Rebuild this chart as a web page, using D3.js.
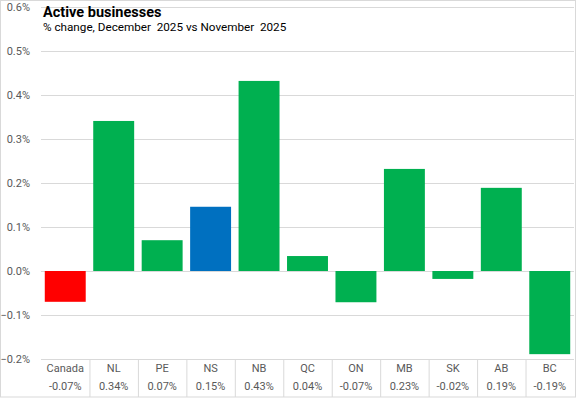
<!DOCTYPE html>
<html>
<head>
<meta charset="utf-8">
<script src="https://cdn.jsdelivr.net/npm/d3@7"></script>
<style>
  body { margin: 0; background: #fff; }
  svg text { font-family: Roboto, "Liberation Sans", sans-serif; }
</style>
</head>
<body>
<svg id="chart" width="577" height="399"></svg>
<script>
// data
const regions = ["Canada", "NL", "PE", "NS", "NB", "QC", "ON", "MB", "SK", "AB", "BC"];
const changes = [-0.070, 0.341, 0.070, 0.146, 0.432, 0.034, -0.071, 0.232, -0.018, 0.189, -0.189];
const changeLabels = ["-0.07%", "0.34%", "0.07%", "0.15%", "0.43%", "0.04%", "-0.07%", "0.23%", "-0.02%", "0.19%", "-0.19%"];
const yTicks = [-0.2, -0.1, 0, 0.1, 0.2, 0.3, 0.4, 0.5, 0.6];

const W = 577, H = 399;
const m = {left: 41, right: 3, top: 7, bottom: 40};

const svg = d3.select("#chart");

const x = d3.scaleBand().domain(regions).range([m.left, W - m.right]).paddingInner(0.155).paddingOuter(0.078);
const xCell = d3.scaleBand().domain(regions).range([m.left, W - m.right]);
const y = d3.scaleLinear().domain([-0.2, 0.6]).range([H - m.bottom, m.top]);

const getFill = d => d.name === "Canada" ? "#FF0000" : (d.name === "NS" ? "#0070C0" : "#00B050");
const rows = regions.map((name, i) => ({name, v: changes[i], label: changeLabels[i]}));

// outer border
svg.append("rect").attr("x", 0.5).attr("y", 0.5).attr("width", W - 2).attr("height", H - 2.5)
  .attr("fill", "none").attr("stroke", "#D9D9D9");

// gridlines + y labels
const yAxis = d3.axisLeft(y).tickValues(yTicks).tickSize(-(W - m.right - m.left));
svg.append("g").attr("transform", `translate(${m.left},0)`).call(yAxis)
  .call(g => g.select(".domain").remove())
  .call(g => g.selectAll("line").attr("stroke", "#D9D9D9"))
  .call(g => g.selectAll("text").attr("x", -11).attr("fill", "#595959").style("font-size", "11px")
    .text(d => d3.format(".1f")(d) + "%"));

// bars
svg.append("g").selectAll("rect").data(rows).join("rect")
  .attr("x", d => x(d.name))
  .attr("width", x.bandwidth())
  .attr("y", d => y(Math.max(0, d.v)))
  .attr("height", d => Math.abs(y(d.v) - y(0)))
  .attr("fill", getFill);

// table below the axis
const tbl = svg.append("g");
tbl.selectAll("line.sep").data(regions.slice(1)).join("line")
  .attr("x1", d => xCell(d) + 0.5).attr("x2", d => xCell(d) + 0.5)
  .attr("y1", y(-0.2)).attr("y2", H - 2)
  .attr("stroke", "#D9D9D9");
tbl.selectAll("text.cat").data(rows).join("text")
  .attr("x", d => xCell(d.name) + xCell.bandwidth() / 2)
  .attr("y", 372).attr("text-anchor", "middle")
  .attr("fill", "#595959").style("font-size", "11px")
  .text(d => d.name);
tbl.selectAll("text.val").data(rows).join("text")
  .attr("x", d => xCell(d.name) + xCell.bandwidth() / 2)
  .attr("y", 390).attr("text-anchor", "middle")
  .attr("fill", "#595959").style("font-size", "11px")
  .text(d => d.label);

// titles
svg.append("text").attr("x", 43).attr("y", 16.5)
  .style("font-size", "14.5px").style("font-weight", "bold").attr("fill", "#000")
  .text("Active businesses");
svg.append("text").attr("x", 43).attr("y", 31)
  .style("font-size", "11.7px").attr("fill", "#000")
  .attr("xml:space", "preserve").style("white-space", "pre")
  .text("% change, December  2025 vs November  2025");
</script>
</body>
</html>
